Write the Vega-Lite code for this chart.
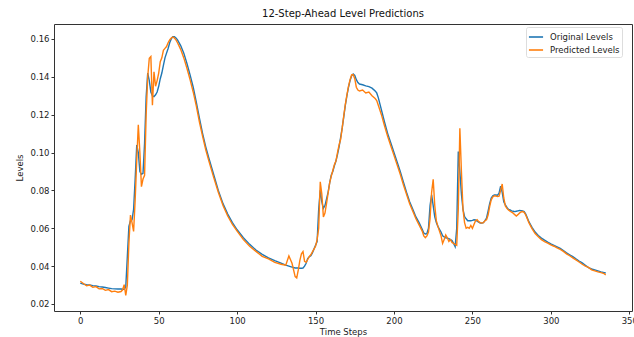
{
  "$schema": "https://vega.github.io/schema/vega-lite/v6.json",
  "autosize": "none",
  "width": 578,
  "height": 287,
  "padding": {"left": 54, "top": 24, "right": 2, "bottom": 26},
  "background": "white",
  "config": {
    "font": "DejaVu Sans",
    "view": {"stroke": "#333", "strokeWidth": 1},
    "axis": {"grid": false, "domain": false, "tickColor": "#333", "tickSize": 3, "labelFontSize": 8.5, "labelColor": "#222", "titleFontSize": 8.5, "titleFontWeight": "normal", "titleColor": "#222", "labelFont": "DejaVu Sans", "titleFont": "DejaVu Sans"}
  },
  "title": {"text": "12-Step-Ahead Level Predictions", "fontSize": 10, "fontWeight": "normal", "font": "DejaVu Sans", "color": "#111", "offset": 5},
  "data": {"values": [
    {"t":0,"o":0.0310,"p":0.0320},{"t":2,"o":0.0305,"p":0.0308},{"t":4,"o":0.0302,"p":0.0296},{"t":6,"o":0.0300,"p":0.0300},
    {"t":8,"o":0.0297,"p":0.0288},{"t":10,"o":0.0295,"p":0.0292},{"t":12,"o":0.0292,"p":0.0280},{"t":14,"o":0.0290,"p":0.0282},
    {"t":16,"o":0.0287,"p":0.0272},{"t":18,"o":0.0284,"p":0.0276},{"t":20,"o":0.0281,"p":0.0265},{"t":22,"o":0.0280,"p":0.0268},
    {"t":24,"o":0.0279,"p":0.0262},{"t":26,"o":0.0279,"p":0.0266},{"t":27,"o":0.0278,"p":0.0275},{"t":28,"o":0.0278,"p":0.0302},
    {"t":29,"o":0.0290,"p":0.0245},{"t":30,"o":0.0450,"p":0.0300},{"t":31,"o":0.0610,"p":0.0520},{"t":32,"o":0.0640,"p":0.0670},
    {"t":33,"o":0.0645,"p":0.0630},{"t":34,"o":0.0700,"p":0.0583},{"t":35,"o":0.0860,"p":0.0750},{"t":36,"o":0.1040,"p":0.0960},
    {"t":37,"o":0.1000,"p":0.1146},{"t":38,"o":0.0900,"p":0.1000},{"t":39,"o":0.0885,"p":0.0820},{"t":40,"o":0.0890,"p":0.0860},
    {"t":41,"o":0.1050,"p":0.0880},{"t":42,"o":0.1295,"p":0.1200},{"t":43,"o":0.1420,"p":0.1400},{"t":44,"o":0.1380,"p":0.1498},
    {"t":45,"o":0.1320,"p":0.1507},{"t":46,"o":0.1300,"p":0.1250},{"t":47,"o":0.1295,"p":0.1427},{"t":48,"o":0.1305,"p":0.1350},
    {"t":49,"o":0.1320,"p":0.1380},{"t":50,"o":0.1350,"p":0.1420},{"t":51,"o":0.1390,"p":0.1480},{"t":52,"o":0.1420,"p":0.1500},
    {"t":53,"o":0.1460,"p":0.1540},{"t":54,"o":0.1500,"p":0.1550},{"t":55,"o":0.1525,"p":0.1560},{"t":56,"o":0.1550,"p":0.1580},
    {"t":57,"o":0.1580,"p":0.1595},{"t":58,"o":0.1600,"p":0.1605},{"t":59,"o":0.1612,"p":0.1610},{"t":60,"o":0.1612,"p":0.1605},
    {"t":61,"o":0.1605,"p":0.1595},{"t":62,"o":0.1595,"p":0.1580},{"t":64,"o":0.1565,"p":0.1545},{"t":66,"o":0.1525,"p":0.1500},
    {"t":68,"o":0.1470,"p":0.1445},{"t":70,"o":0.1410,"p":0.1385},{"t":72,"o":0.1345,"p":0.1320},{"t":74,"o":0.1265,"p":0.1245},
    {"t":76,"o":0.1180,"p":0.1160},{"t":78,"o":0.1100,"p":0.1085},{"t":80,"o":0.1030,"p":0.1015},{"t":82,"o":0.0970,"p":0.0955},
    {"t":85,"o":0.0885,"p":0.0870},{"t":88,"o":0.0800,"p":0.0790},{"t":91,"o":0.0730,"p":0.0720},{"t":94,"o":0.0675,"p":0.0665},
    {"t":97,"o":0.0630,"p":0.0620},{"t":100,"o":0.0592,"p":0.0585},{"t":104,"o":0.0550,"p":0.0540},{"t":108,"o":0.0515,"p":0.0505},
    {"t":112,"o":0.0485,"p":0.0478},{"t":116,"o":0.0462,"p":0.0452},{"t":120,"o":0.0444,"p":0.0438},{"t":124,"o":0.0429,"p":0.0420},
    {"t":128,"o":0.0416,"p":0.0410},{"t":131,"o":0.0405,"p":0.0405},{"t":133,"o":0.0400,"p":0.0454},{"t":135,"o":0.0395,"p":0.0415},
    {"t":137,"o":0.0390,"p":0.0345},{"t":138,"o":0.0390,"p":0.0338},{"t":139,"o":0.0390,"p":0.0380},{"t":140,"o":0.0389,"p":0.0430},
    {"t":141,"o":0.0389,"p":0.0465},{"t":142,"o":0.0390,"p":0.0477},{"t":143,"o":0.0400,"p":0.0425},{"t":144,"o":0.0415,"p":0.0420},
    {"t":145,"o":0.0440,"p":0.0435},{"t":146,"o":0.0450,"p":0.0450},{"t":147,"o":0.0455,"p":0.0460},{"t":148,"o":0.0470,"p":0.0475},
    {"t":149,"o":0.0490,"p":0.0490},{"t":150,"o":0.0510,"p":0.0505},{"t":151,"o":0.0530,"p":0.0540},{"t":152,"o":0.0700,"p":0.0600},
    {"t":153,"o":0.0800,"p":0.0845},{"t":154,"o":0.0740,"p":0.0780},{"t":155,"o":0.0705,"p":0.0660},{"t":156,"o":0.0720,"p":0.0680},
    {"t":157,"o":0.0755,"p":0.0730},{"t":158,"o":0.0790,"p":0.0785},{"t":159,"o":0.0840,"p":0.0840},{"t":160,"o":0.0880,"p":0.0875},
    {"t":161,"o":0.0900,"p":0.0905},{"t":162,"o":0.0930,"p":0.0935},{"t":163,"o":0.0955,"p":0.0955},{"t":164,"o":0.0990,"p":0.1000},
    {"t":165,"o":0.1030,"p":0.1040},{"t":166,"o":0.1080,"p":0.1070},{"t":167,"o":0.1130,"p":0.1130},{"t":168,"o":0.1190,"p":0.1195},
    {"t":169,"o":0.1250,"p":0.1255},{"t":170,"o":0.1300,"p":0.1305},{"t":171,"o":0.1345,"p":0.1350},{"t":172,"o":0.1380,"p":0.1385},
    {"t":173,"o":0.1405,"p":0.1410},{"t":174,"o":0.1415,"p":0.1412},{"t":175,"o":0.1408,"p":0.1390},{"t":176,"o":0.1385,"p":0.1345},
    {"t":177,"o":0.1370,"p":0.1330},{"t":178,"o":0.1362,"p":0.1325},{"t":180,"o":0.1358,"p":0.1330},{"t":182,"o":0.1352,"p":0.1315},
    {"t":184,"o":0.1348,"p":0.1320},{"t":186,"o":0.1340,"p":0.1300},{"t":188,"o":0.1325,"p":0.1285},{"t":189,"o":0.1315,"p":0.1275},
    {"t":190,"o":0.1290,"p":0.1250},{"t":192,"o":0.1225,"p":0.1200},{"t":194,"o":0.1160,"p":0.1140},{"t":196,"o":0.1100,"p":0.1085},
    {"t":198,"o":0.1050,"p":0.1035},{"t":200,"o":0.1000,"p":0.0985},{"t":202,"o":0.0950,"p":0.0935},{"t":204,"o":0.0900,"p":0.0885},
    {"t":206,"o":0.0845,"p":0.0830},{"t":208,"o":0.0790,"p":0.0780},{"t":210,"o":0.0740,"p":0.0730},{"t":212,"o":0.0700,"p":0.0690},
    {"t":214,"o":0.0660,"p":0.0650},{"t":216,"o":0.0630,"p":0.0618},{"t":218,"o":0.0595,"p":0.0585},{"t":219,"o":0.0575,"p":0.0560},
    {"t":220,"o":0.0570,"p":0.0550},{"t":221,"o":0.0572,"p":0.0560},{"t":222,"o":0.0600,"p":0.0580},{"t":223,"o":0.0720,"p":0.0650},
    {"t":224,"o":0.0776,"p":0.0790},{"t":225,"o":0.0720,"p":0.0859},{"t":226,"o":0.0660,"p":0.0720},{"t":227,"o":0.0630,"p":0.0640},
    {"t":228,"o":0.0610,"p":0.0610},{"t":229,"o":0.0595,"p":0.0585},{"t":230,"o":0.0580,"p":0.0560},{"t":231,"o":0.0560,"p":0.0520},
    {"t":232,"o":0.0555,"p":0.0540},{"t":233,"o":0.0550,"p":0.0565},{"t":234,"o":0.0548,"p":0.0550},{"t":235,"o":0.0545,"p":0.0530},
    {"t":236,"o":0.0540,"p":0.0540},{"t":237,"o":0.0535,"p":0.0525},{"t":238,"o":0.0520,"p":0.0520},{"t":239,"o":0.0503,"p":0.0515},
    {"t":240,"o":0.0600,"p":0.0510},{"t":241,"o":0.1005,"p":0.0700},{"t":242,"o":0.0900,"p":0.1128},{"t":243,"o":0.0780,"p":0.0900},
    {"t":244,"o":0.0700,"p":0.0700},{"t":245,"o":0.0662,"p":0.0630},{"t":246,"o":0.0650,"p":0.0600},{"t":247,"o":0.0640,"p":0.0605},
    {"t":248,"o":0.0640,"p":0.0600},{"t":249,"o":0.0640,"p":0.0615},{"t":250,"o":0.0642,"p":0.0600},{"t":251,"o":0.0645,"p":0.0620},
    {"t":252,"o":0.0644,"p":0.0640},{"t":253,"o":0.0638,"p":0.0645},{"t":254,"o":0.0632,"p":0.0635},{"t":255,"o":0.0628,"p":0.0630},
    {"t":256,"o":0.0627,"p":0.0628},{"t":257,"o":0.0630,"p":0.0630},{"t":258,"o":0.0640,"p":0.0640},{"t":259,"o":0.0653,"p":0.0645},
    {"t":260,"o":0.0690,"p":0.0670},{"t":261,"o":0.0730,"p":0.0715},{"t":262,"o":0.0760,"p":0.0750},{"t":263,"o":0.0772,"p":0.0765},
    {"t":264,"o":0.0776,"p":0.0772},{"t":265,"o":0.0776,"p":0.0770},{"t":266,"o":0.0775,"p":0.0768},{"t":267,"o":0.0785,"p":0.0770},
    {"t":268,"o":0.0823,"p":0.0800},{"t":269,"o":0.0790,"p":0.0834},{"t":270,"o":0.0740,"p":0.0760},{"t":271,"o":0.0724,"p":0.0718},
    {"t":272,"o":0.0710,"p":0.0705},{"t":273,"o":0.0700,"p":0.0697},{"t":274,"o":0.0697,"p":0.0690},{"t":275,"o":0.0692,"p":0.0685},
    {"t":276,"o":0.0690,"p":0.0680},{"t":277,"o":0.0688,"p":0.0672},{"t":278,"o":0.0690,"p":0.0665},{"t":279,"o":0.0692,"p":0.0672},
    {"t":280,"o":0.0694,"p":0.0680},{"t":281,"o":0.0693,"p":0.0686},{"t":282,"o":0.0692,"p":0.0688},{"t":283,"o":0.0688,"p":0.0684},
    {"t":284,"o":0.0675,"p":0.0670},{"t":285,"o":0.0655,"p":0.0650},{"t":286,"o":0.0635,"p":0.0630},{"t":288,"o":0.0605,"p":0.0598},
    {"t":290,"o":0.0580,"p":0.0572},{"t":292,"o":0.0562,"p":0.0555},{"t":294,"o":0.0548,"p":0.0540},{"t":296,"o":0.0537,"p":0.0530},
    {"t":298,"o":0.0527,"p":0.0522},{"t":300,"o":0.0518,"p":0.0512},{"t":302,"o":0.0510,"p":0.0505},{"t":304,"o":0.0502,"p":0.0496},
    {"t":306,"o":0.0494,"p":0.0488},{"t":308,"o":0.0482,"p":0.0478},{"t":310,"o":0.0470,"p":0.0465},{"t":312,"o":0.0460,"p":0.0455},
    {"t":314,"o":0.0450,"p":0.0444},{"t":316,"o":0.0438,"p":0.0433},{"t":318,"o":0.0427,"p":0.0422},{"t":320,"o":0.0417,"p":0.0410},
    {"t":322,"o":0.0405,"p":0.0400},{"t":324,"o":0.0392,"p":0.0393},{"t":326,"o":0.0385,"p":0.0380},{"t":328,"o":0.0380,"p":0.0375},
    {"t":330,"o":0.0375,"p":0.0370},{"t":332,"o":0.0370,"p":0.0366},{"t":334,"o":0.0366,"p":0.0360},{"t":335,"o":0.0364,"p":0.0354}
  ]},
  "transform": [{"fold": ["o", "p"], "as": ["series", "value"]}],
  "mark": {"type": "line", "strokeWidth": 1.4, "clip": true},
  "encoding": {
    "x": {"field": "t", "type": "quantitative", "title": "Time Steps",
      "scale": {"domain": [-16.75, 351.75], "nice": false, "zero": false},
      "axis": {"values": [0, 50, 100, 150, 200, 250, 300, 350], "format": "d", "titlePadding": 3, "labelPadding": 2}},
    "y": {"field": "value", "type": "quantitative", "title": "Levels",
      "scale": {"domain": [0.0163, 0.1679], "nice": false, "zero": false},
      "axis": {"values": [0.02, 0.04, 0.06, 0.08, 0.10, 0.12, 0.14, 0.16], "format": ".2f", "titlePadding": 6, "labelPadding": 2}},
    "color": {"field": "series", "type": "nominal",
      "scale": {"domain": ["o", "p"], "range": ["#1f77b4", "#ff7f0e"]},
      "legend": {"title": null, "orient": "none", "legendX": 472, "legendY": 3,
        "labelExpr": "datum.label == 'o' ? 'Original Levels' : 'Predicted Levels'",
        "symbolType": "stroke", "symbolSize": 200, "symbolStrokeWidth": 1.6,
        "labelFontSize": 8.5, "labelFont": "DejaVu Sans", "labelColor": "#222", "labelOffset": 6,
        "strokeColor": "#ddd", "fillColor": "white", "padding": 2, "cornerRadius": 2, "rowPadding": -1}}
  }
}
